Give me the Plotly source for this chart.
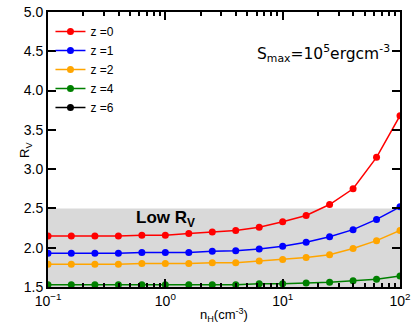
import plotly.graph_objects as go

n_h = [0.1, 0.158, 0.251, 0.398, 0.631, 1.0, 1.585, 2.512, 3.981, 6.31, 10.0, 15.85, 25.12, 39.81, 63.1, 100.0]

rv_z0 = [2.15, 2.15, 2.15, 2.15, 2.16, 2.16, 2.18, 2.20, 2.22, 2.26, 2.33, 2.41, 2.55, 2.75, 3.15, 3.68]
rv_z1 = [1.93, 1.93, 1.93, 1.93, 1.94, 1.94, 1.94, 1.955, 1.96, 1.985, 2.02, 2.07, 2.14, 2.23, 2.36, 2.52]
rv_z2 = [1.79, 1.79, 1.79, 1.79, 1.80, 1.80, 1.80, 1.81, 1.81, 1.83, 1.85, 1.875, 1.91, 1.99, 2.09, 2.22]
rv_z4 = [1.53, 1.53, 1.53, 1.53, 1.53, 1.53, 1.53, 1.53, 1.53, 1.54, 1.54, 1.55, 1.56, 1.58, 1.60, 1.64]
rv_z6 = [1.30, 1.30, 1.30, 1.30, 1.30, 1.30, 1.30, 1.30, 1.30, 1.30, 1.30, 1.31, 1.31, 1.32, 1.33, 1.35]

series = [("z =0", rv_z0, "#ff0000"), ("z =1", rv_z1, "#0000ff"), ("z =2", rv_z2, "#ffa500"),
          ("z =4", rv_z4, "#008000"), ("z =6", rv_z6, "#000000")]

low_rv_band = [1.5, 2.5]
y_ticks = [1.5, 2.0, 2.5, 3.0, 3.5, 4.0, 4.5, 5.0]
x_major = [0.1, 1, 10, 100]
x_major_text = ["10<sup>\u22121</sup>", "10<sup>0</sup>", "10<sup>1</sup>", "10<sup>2</sup>"]
x_minor = [m * d for d in (0.1, 1, 10) for m in range(2, 10)]

fig = go.Figure()
for name, vals, col in series:
    fig.add_trace(go.Scatter(x=n_h, y=vals, mode="lines+markers", name=name,
                             line=dict(color=col, width=1.5),
                             marker=dict(color=col, size=7), cliponaxis=True))

# invisible carrier traces so the overlaid tick-only axes are drawn
for xa, ya in (("x2", "y"), ("x3", "y"), ("x4", "y"), ("x", "y2")):
    fig.add_trace(go.Scatter(x=n_h, y=rv_z0, xaxis=xa, yaxis=ya, mode="lines", opacity=0,
                             showlegend=False, hoverinfo="skip"))

fig.add_shape(type="rect", xref="paper", yref="y", x0=0, x1=1,
              y0=low_rv_band[0], y1=low_rv_band[1],
              fillcolor="#d9d9d9", line=dict(width=0), layer="below")

fig.add_annotation(x=0.005, y=2.36, xref="x", yref="y", text="<b>Low R<sub>V</sub></b>",
                   showarrow=False, font=dict(size=17, color="black", family="Liberation Sans"))
fig.add_annotation(x=0.978, y=4.47, xref="paper", yref="y", xanchor="right",
                   text="S<sub>max</sub>=10<sup>5</sup>ergcm<sup>-3</sup>",
                   showarrow=False, font=dict(size=15.5, color="black", family="DejaVu Sans"))
# axis titles
fig.add_annotation(x=0.5, y=-0.102, xref="paper", yref="paper", yanchor="middle",
                   text="n<sub>H</sub>(cm<sup>-3</sup>)", showarrow=False,
                   font=dict(size=13, color="black"))
fig.add_annotation(x=-0.094, y=0.5, xref="paper", yref="paper", textangle=-90,
                   text="R<sub>V</sub>", showarrow=False, font=dict(size=13, color="black"))

tick_only = dict(type="log", range=[-1, 2], overlaying="x", anchor="y", showticklabels=False,
                 tickmode="array", ticks="inside", tickcolor="black", tickwidth=2,
                 showgrid=False, zeroline=False, showline=False, automargin=False,
                 layer="above traces")

fig.update_layout(
    width=415, height=330,
    margin=dict(l=48, r=15, t=12, b=43),
    paper_bgcolor="white", plot_bgcolor="white",
    font=dict(family="Liberation Sans", size=14, color="black"),
    showlegend=True,
    legend=dict(x=0.007, y=0.982, xanchor="left", yanchor="top", bgcolor="rgba(0,0,0,0)",
                font=dict(size=12), tracegroupgap=0, itemwidth=30),
    xaxis=dict(type="log", range=[-1, 2], tickmode="array", tickvals=x_major, ticktext=x_major_text,
               showgrid=False, zeroline=False, showline=True, linecolor="black", linewidth=2,
               mirror=True, ticks="inside", ticklen=8, tickwidth=2, tickcolor="black",
               ticklabelstandoff=0, automargin=False, layer="above traces"),
    xaxis2=dict(tick_only, side="bottom", tickvals=x_minor, ticklen=4),
    xaxis3=dict(tick_only, side="top", tickvals=x_minor, ticklen=4),
    xaxis4=dict(tick_only, side="top", tickvals=x_major, ticklen=8),
    yaxis=dict(range=[1.5, 5.0], tickvals=y_ticks, tickformat=".1f",
               showgrid=False, zeroline=False, showline=True, linecolor="black", linewidth=2,
               mirror=True, ticks="inside", ticklen=8, tickwidth=2, tickcolor="black",
               automargin=False, layer="above traces"),
    yaxis2=dict(range=[1.5, 5.0], overlaying="y", side="right", anchor="x", tickvals=y_ticks,
                showticklabels=False, ticks="inside", ticklen=8, tickwidth=2, tickcolor="black",
                showgrid=False, zeroline=False, showline=False, automargin=False,
                layer="above traces"),
)

fig.write_html("out.html", config={"displayModeBar": False},
               post_script="document.body.style.margin='0';document.body.style.overflow='hidden';")
